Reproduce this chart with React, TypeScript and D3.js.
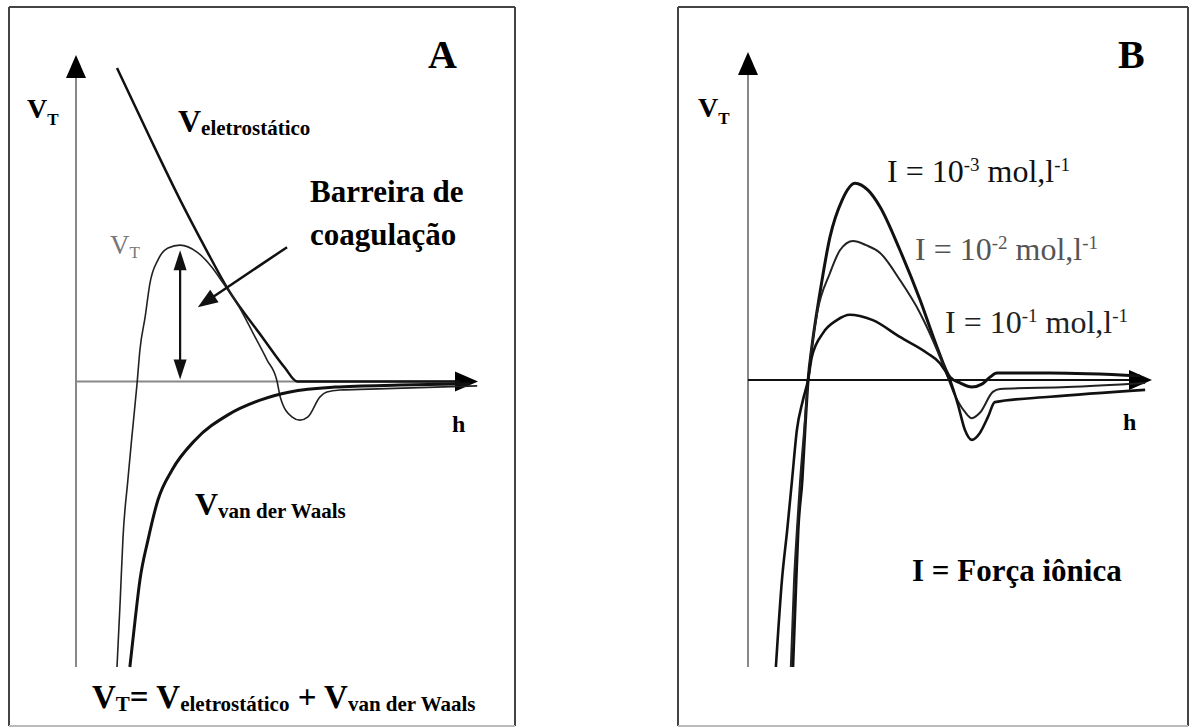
import React from "react";
import * as d3 from "d3";

// ---------- Panel A: potential components vs. separation h ----------
const hElec = [1.02, 1.84, 2.59, 3.21, 3.78, 4.63, 5.2, 5.5, 6.57, 9.55];
const vElec = [7.68, 5.97, 4.45, 3.28, 2.26, 1.09, 0.33, 0.0, 0.0, 0.0];

const hTotal = [1.02, 1.1, 1.17, 1.29, 1.39, 1.52, 1.59, 1.72, 1.84, 2.04, 2.29, 2.59, 3.01, 3.38, 3.66, 4.06, 4.4, 4.75, 5.0, 5.08, 5.37, 5.57, 5.77, 6.07, 6.24, 6.57, 7.31, 9.98];
const vTotal = [-7.0, -5.36, -3.81, -2.42, -1.36, -0.04, 0.77, 1.58, 2.41, 2.98, 3.27, 3.34, 3.17, 2.8, 2.41, 1.82, 1.19, 0.53, 0.01, -0.38, -0.87, -0.95, -0.87, -0.38, -0.26, -0.21, -0.19, -0.11];

const hVdw = [1.34, 1.47, 1.59, 1.79, 2.04, 2.39, 2.96, 3.78, 4.58, 5.32, 6.44, 8.06, 9.8];
const vVdw = [-7.0, -5.85, -4.87, -3.89, -2.9, -2.17, -1.44, -0.82, -0.46, -0.26, -0.14, -0.09, -0.06];

// arrow pointing at the barrier (start, tip) in h / V units
const barrierArrowFrom = [5.25, 3.29];
const barrierArrowTo = [3.03, 1.82];

// ---------- Panel B: total potential for three ionic strengths ----------
const ionicLabels = ["-3", "-2", "-1"];

const hI3 = [1.11, 1.19, 1.24, 1.34, 1.41, 1.49, 1.58, 1.78, 2.03, 2.33, 2.65, 2.97, 3.27, 3.76, 4.26, 4.68, 5.0, 5.25, 5.54, 5.79, 5.99, 6.16, 7.48, 9.7];
const vI3 = [-7.0, -4.88, -3.66, -2.44, -1.22, 0.02, 0.8, 2.12, 3.49, 4.39, 4.8, 4.63, 4.22, 3.17, 1.95, 0.8, 0.07, -0.07, -0.17, -0.1, 0.07, 0.17, 0.17, 0.1];

const hI2 = [1.06, 1.14, 1.21, 1.29, 1.39, 1.49, 1.58, 1.71, 2.03, 2.28, 2.6, 2.92, 3.27, 3.76, 4.26, 4.68, 4.88, 5.12, 5.37, 5.54, 5.74, 6.06, 6.24, 7.9, 9.83];
const vI2 = [-7.0, -4.88, -3.66, -2.44, -1.22, 0.02, 0.8, 1.63, 2.61, 3.17, 3.39, 3.29, 3.1, 2.44, 1.63, 0.73, 0.24, -0.37, -0.78, -0.93, -0.8, -0.29, -0.22, -0.17, -0.07];

const hI1 = [0.69, 0.84, 0.97, 1.09, 1.21, 1.36, 1.49, 1.58, 1.86, 2.2, 2.52, 2.77, 3.09, 3.76, 4.43, 4.75, 5.0, 5.2, 5.37, 5.54, 5.74, 5.94, 6.11, 7.48, 9.83];
const vI1 = [-7.0, -4.88, -3.66, -2.44, -1.22, -0.49, 0.02, 0.56, 1.15, 1.46, 1.59, 1.56, 1.46, 1.05, 0.66, 0.41, 0.0, -0.61, -1.22, -1.46, -1.29, -0.9, -0.54, -0.41, -0.24];

const hDomain = [0, 10];
const vDomain = [-7, 8];

const FONT = "'Liberation Serif', 'Times New Roman', Times, serif";

const xA = d3.scaleLinear().domain(hDomain).range([76, 478]);
const yA = d3.scaleLinear().domain(vDomain).range([667, 55]);
const xB = d3.scaleLinear().domain(hDomain).range([748, 1152]);
const yB = d3.scaleLinear().domain(vDomain).range([667, 52]);

function path(hs: number[], vs: number[], sx: any, sy: any) {
  return (
    d3
      .line<number>()
      .x((_, i) => sx(hs[i]))
      .y((d) => sy(d))
      .curve(d3.curveMonotoneX)(vs) || ""
  );
}

function head(tx: number, ty: number, fx: number, fy: number, len: number, half: number) {
  const dx = tx - fx;
  const dy = ty - fy;
  const l = Math.hypot(dx, dy);
  const ux = dx / l;
  const uy = dy / l;
  const bx = tx - ux * len;
  const by = ty - uy * len;
  return `${tx},${ty} ${bx - uy * half},${by + ux * half} ${bx + uy * half},${by - ux * half}`;
}

function Axes({ sx, sy, axisColor, xAxisColor }: any) {
  const x0 = sx(hDomain[0]);
  const x1 = sx(hDomain[1]);
  const y0 = sy(0);
  const yBot = sy(vDomain[0]);
  const yTop = sy(vDomain[1]);
  return (
    <g>
      <line x1={x0} y1={yBot} x2={x0} y2={yTop + 18} stroke={axisColor} strokeWidth={2} />
      <polygon points={head(x0, yTop, x0, yTop + 30, 23, 10)} fill="#000" />
      <line x1={x0} y1={y0} x2={x1 - 18} y2={y0} stroke={xAxisColor} strokeWidth={2} />
      <polygon points={head(x1, y0, x1 - 30, y0, 23, 10)} fill="#000" />
    </g>
  );
}

function Frame({ x, y, w, h }: any) {
  return (
    <g>
      <line x1={x} y1={y} x2={x + w} y2={y} stroke="#444" strokeWidth={2} />
      <line x1={x} y1={y} x2={x} y2={y + h} stroke="#444" strokeWidth={2} />
      <line x1={x + w} y1={y} x2={x + w} y2={y + h} stroke="#444" strokeWidth={2} />
      <line x1={x} y1={y + h} x2={x + w} y2={y + h} stroke="#bbb" strokeWidth={2} />
    </g>
  );
}

export default function App() {
  // barrier height: peak of the total potential
  const iPeak = vTotal.indexOf(Math.max(...vTotal));
  const hPeak = hTotal[iPeak];
  const vPeak = vTotal[iPeak];
  const bx = xA(hPeak);
  const bTop = yA(vPeak) + 5;
  const bBot = yA(0) - 2;

  const ax0 = xA(barrierArrowFrom[0]);
  const ay0 = yA(barrierArrowFrom[1]);
  const ax1 = xA(barrierArrowTo[0]);
  const ay1 = yA(barrierArrowTo[1]);

  const pre = { whiteSpace: "pre" } as any;

  return (
    <svg
      width={1189}
      height={727}
      style={{ position: "absolute", left: 0, top: 0, background: "#fff" }}
      fontFamily={FONT}
    >
      <rect x={0} y={0} width={1189} height={727} fill="#fff" />

      {/* ---------------- Panel A ---------------- */}
      <Frame x={9} y={7} w={506} h={719} />
      <Axes sx={xA} sy={yA} axisColor="#888" xAxisColor="#888" />

      <path d={path(hElec, vElec, xA, yA)} fill="none" stroke="#111" strokeWidth={2.5} />
      <path d={path(hTotal, vTotal, xA, yA)} fill="none" stroke="#222" strokeWidth={1.6} />
      <path d={path(hVdw, vVdw, xA, yA)} fill="none" stroke="#111" strokeWidth={3} />

      {/* barrier height double arrow */}
      <line x1={bx} y1={bTop + 12} x2={bx} y2={bBot - 12} stroke="#111" strokeWidth={2.2} />
      <polygon points={head(bx, bTop, bx, bTop + 30, 20, 6.5)} fill="#111" />
      <polygon points={head(bx, bBot, bx, bBot - 30, 20, 6.5)} fill="#111" />

      {/* arrow to the barrier */}
      <line x1={ax0} y1={ay0} x2={ax1 + (ax0 - ax1) * 0.12} y2={ay1 + (ay0 - ay1) * 0.12} stroke="#111" strokeWidth={2.5} />
      <polygon points={head(ax1, ay1, ax0, ay0, 20, 7.5)} fill="#111" />

      <text x={428} y={68} fontSize={40} fontWeight="bold">A</text>

      <text x={27} y={118} fontWeight="bold">
        <tspan fontSize={28}>V</tspan>
        <tspan fontSize={17} dy={7}>T</tspan>
      </text>

      <text x={178} y={132} fontWeight="bold">
        <tspan fontSize={32}>V</tspan>
        <tspan fontSize={21} dy={3}>eletrostático</tspan>
      </text>

      <text x={310} y={202} fontSize={31} fontWeight="bold">Barreira de</text>
      <text x={310} y={245} fontSize={31} fontWeight="bold">coagulação</text>

      <text x={110} y={254} fill="#777">
        <tspan fontSize={27}>V</tspan>
        <tspan fontSize={17} dy={4}>T</tspan>
      </text>

      <text x={452} y={432} fontSize={24} fontWeight="bold">h</text>

      <text x={195} y={515} fontWeight="bold">
        <tspan fontSize={32}>V</tspan>
        <tspan fontSize={21} dy={3}>van der Waals</tspan>
      </text>

      <text x={92} y={708} fontWeight="bold" style={pre}>
        <tspan fontSize={33}>V</tspan>
        <tspan fontSize={21} dy={3}>T</tspan>
        <tspan fontSize={33} dy={-3}>= V</tspan>
        <tspan fontSize={21} dy={3}>eletrostático</tspan>
        <tspan fontSize={33} dy={-3}> + V</tspan>
        <tspan fontSize={21} dy={3}>van der Waals</tspan>
      </text>

      {/* ---------------- Panel B ---------------- */}
      <Frame x={678} y={7} w={510} h={719} />
      <Axes sx={xB} sy={yB} axisColor="#888" xAxisColor="#111" />

      <path d={path(hI3, vI3, xB, yB)} fill="none" stroke="#111" strokeWidth={3} />
      <path d={path(hI2, vI2, xB, yB)} fill="none" stroke="#222" strokeWidth={2} />
      <path d={path(hI1, vI1, xB, yB)} fill="none" stroke="#111" strokeWidth={2.6} />

      <text x={1118} y={68} fontSize={40} fontWeight="bold">B</text>

      <text x={698} y={117} fontWeight="bold">
        <tspan fontSize={28}>V</tspan>
        <tspan fontSize={17} dy={7}>T</tspan>
      </text>

      <text x={1123} y={430} fontSize={24} fontWeight="bold">h</text>

      {[
        { x: 887, y: 182, fill: "#111" },
        { x: 915, y: 260, fill: "#555" },
        { x: 945, y: 333, fill: "#222" },
      ].map((p, i) => (
        <text key={i} x={p.x} y={p.y} fill={p.fill} style={pre}>
          <tspan fontSize={32}>I = 10</tspan>
          <tspan fontSize={19} dy={-11}>{ionicLabels[i]}</tspan>
          <tspan fontSize={32} dy={11}> mol,l</tspan>
          <tspan fontSize={19} dy={-11}>-1</tspan>
        </text>
      ))}

      <text x={912} y={581} fontSize={31} fontWeight="bold">I = Força iônica</text>
    </svg>
  );
}
